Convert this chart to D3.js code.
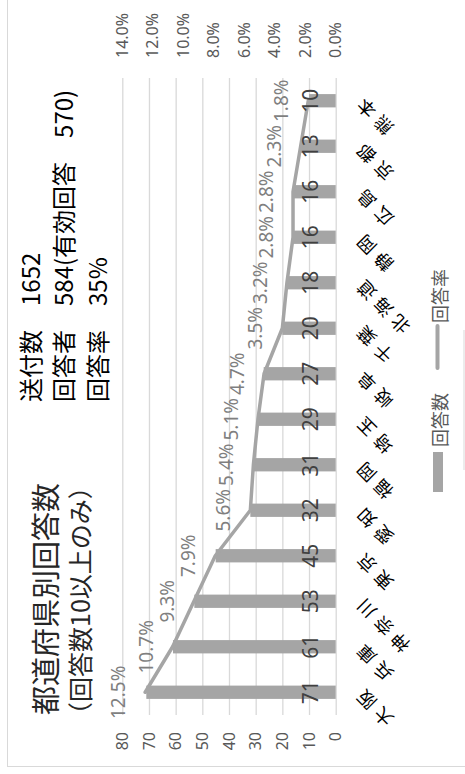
<!DOCTYPE html>
<html><head><meta charset="utf-8">
<script src="https://cdn.jsdelivr.net/npm/d3@7"></script>
<style>
html,body{margin:0;padding:0;background:#fff;overflow:hidden}
svg{display:block}
text{font-family:"Noto Sans CJK JP","Noto Sans",sans-serif}
</style></head><body>
<svg id="chart" width="465" height="774"></svg>
<script>
// Responses by prefecture (prefectures with 10+ responses)
const prefectures = ["大阪","兵庫","神奈川","東京","愛知","福岡","埼玉","岐阜","千葉","北海道","静岡","広島","京都","熊本"];
const responses = [71,61,53,45,32,31,29,27,20,18,16,16,13,10];
const responseRates = [12.5,10.7,9.3,7.9,5.6,5.4,5.1,4.7,3.5,3.2,2.8,2.8,2.3,1.8];
const countTicks = [0,10,20,30,40,50,60,70,80];
const rateTicks = [0,2,4,6,8,10,12,14];
const titleLines = ["都道府県別回答数","（回答数10以上のみ）"];
const summaryLines = ["送付数　1652","回答者　584(有効回答　570)","回答率　35%"];
const legendLabels = ["回答数","回答率"];

const W = 774, H = 465;          // chart frame, drawn landscape and turned a quarter
const plot = {left: 59, right: 696, top: 122.3, bottom: 335.7};
const barColor = "#a5a5a5";
const latin = "'Noto Sans','Noto Sans CJK JP',sans-serif";

const svg = d3.select("#chart");
const g = svg.append("g").attr("transform", `translate(0,${W}) rotate(-90)`);

// outer frame
g.append("rect").attr("x", 7.5).attr("y", 7.5).attr("width", W + 20).attr("height", H - 6)
  .attr("fill", "none").attr("stroke", "#d9d9d9").attr("stroke-width", 1);

const x = d3.scaleBand().domain(prefectures).range([plot.left, plot.right]);
const y = d3.scaleLinear().domain([0, 80]).range([plot.bottom, plot.top]);
const y2 = d3.scaleLinear().domain([0, 14]).range([plot.bottom, plot.top]);

// gridlines + left axis labels
const leftAxis = g.append("g").attr("transform", `translate(${plot.left},0)`)
  .call(d3.axisLeft(y).tickValues(countTicks).tickSize(-(plot.right - plot.left)).tickPadding(17));
leftAxis.select(".domain").remove();
leftAxis.selectAll("line").attr("stroke", "#d9d9d9").attr("stroke-width", 1.3);
leftAxis.selectAll("text").attr("font-size", 16).attr("fill", "#595959").style("font-family", latin);

// right axis labels (rate)
const rightAxis = g.append("g").attr("transform", `translate(${plot.right},0)`)
  .call(d3.axisRight(y2).tickValues(rateTicks).tickSize(0).tickPadding(20)
    .tickFormat(d => d.toFixed(1) + "%"));
rightAxis.select(".domain").remove();
rightAxis.selectAll("text").attr("font-size", 16).attr("fill", "#595959").style("font-family", latin);

// bars
const barW = 13.3;
g.append("g").selectAll("rect").data(prefectures).join("rect")
  .attr("x", (d) => x(d) + (x.bandwidth() - barW) / 2)
  .attr("width", barW)
  .attr("y", (d, i) => y(responses[i]))
  .attr("height", (d, i) => y(0) - y(responses[i]))
  .attr("fill", barColor);

// rate line
const cx = d => x(d) + x.bandwidth() / 2;
g.append("path")
  .attr("d", d3.line().x((d) => cx(d)).y((d, i) => y2(responseRates[i]))(prefectures))
  .attr("fill", "none").attr("stroke", barColor).attr("stroke-width", 3.5)
  .attr("stroke-linejoin", "round").attr("stroke-linecap", "round");

// count labels at the bar base
g.append("g").selectAll("text").data(prefectures).join("text")
  .attr("x", (d) => cx(d)).attr("y", y(0) - 18)
  .attr("text-anchor", "middle").attr("font-size", 21).attr("fill", "#404040")
  .style("font-family", latin)
  .text((d, i) => responses[i]);

// rate labels above the line points
g.append("g").selectAll("text").data(prefectures).join("text")
  .attr("x", (d) => cx(d)).attr("y", (d, i) => y2(responseRates[i]) - 20)
  .attr("text-anchor", "middle").attr("font-size", 19).attr("fill", "#7f7f7f")
  .style("font-family", latin)
  .text((d, i) => responseRates[i].toFixed(1) + "%");

// category axis
const catAxis = g.append("g").attr("transform", `translate(0,${plot.bottom})`)
  .call(d3.axisBottom(x).tickSize(0));
catAxis.select(".domain").remove();
catAxis.selectAll("text")
  .attr("x", 0).attr("y", 0).attr("dy", 0)
  .attr("transform", "translate(8,25) rotate(-45)")
  .attr("text-anchor", "end").attr("font-size", 18).attr("fill", "#000")
  .attr("letter-spacing", 6);

// title block
g.append("text").attr("x", 59).attr("y", 43.5).attr("dominant-baseline", "central")
  .attr("font-size", 29).attr("fill", "#262626").text(titleLines[0]);
g.append("text").attr("x", 47).attr("y", 79).attr("dominant-baseline", "central")
  .attr("font-size", 25).attr("fill", "#262626").text(titleLines[1]);

summaryLines.forEach((s, i) => {
  g.append("text").attr("x", 372).attr("y", 29 + i * 33.5).attr("dominant-baseline", "central")
    .attr("font-size", 24).attr("fill", "#000").text(s);
});

// legend
const lg = g.append("g");
lg.append("rect").attr("x", 282).attr("y", 433).attr("width", 40).attr("height", 10).attr("fill", barColor);
lg.append("text").attr("x", 327).attr("y", 438.5).attr("dominant-baseline", "central")
  .attr("font-size", 18).attr("fill", "#595959").text(legendLabels[0]);
lg.append("line").attr("x1", 406).attr("x2", 448).attr("y1", 437.5).attr("y2", 437.5)
  .attr("stroke", barColor).attr("stroke-width", 4).attr("stroke-linecap", "round");
lg.append("text").attr("x", 451).attr("y", 438.5).attr("dominant-baseline", "central")
  .attr("font-size", 18).attr("fill", "#595959").text(legendLabels[1]);

// short frame edge beside the legend
g.append("line").attr("x1", 304).attr("x2", 444).attr("y1", 464).attr("y2", 464)
  .attr("stroke", "#d9d9d9").attr("stroke-width", 1);
</script>
</body></html>
